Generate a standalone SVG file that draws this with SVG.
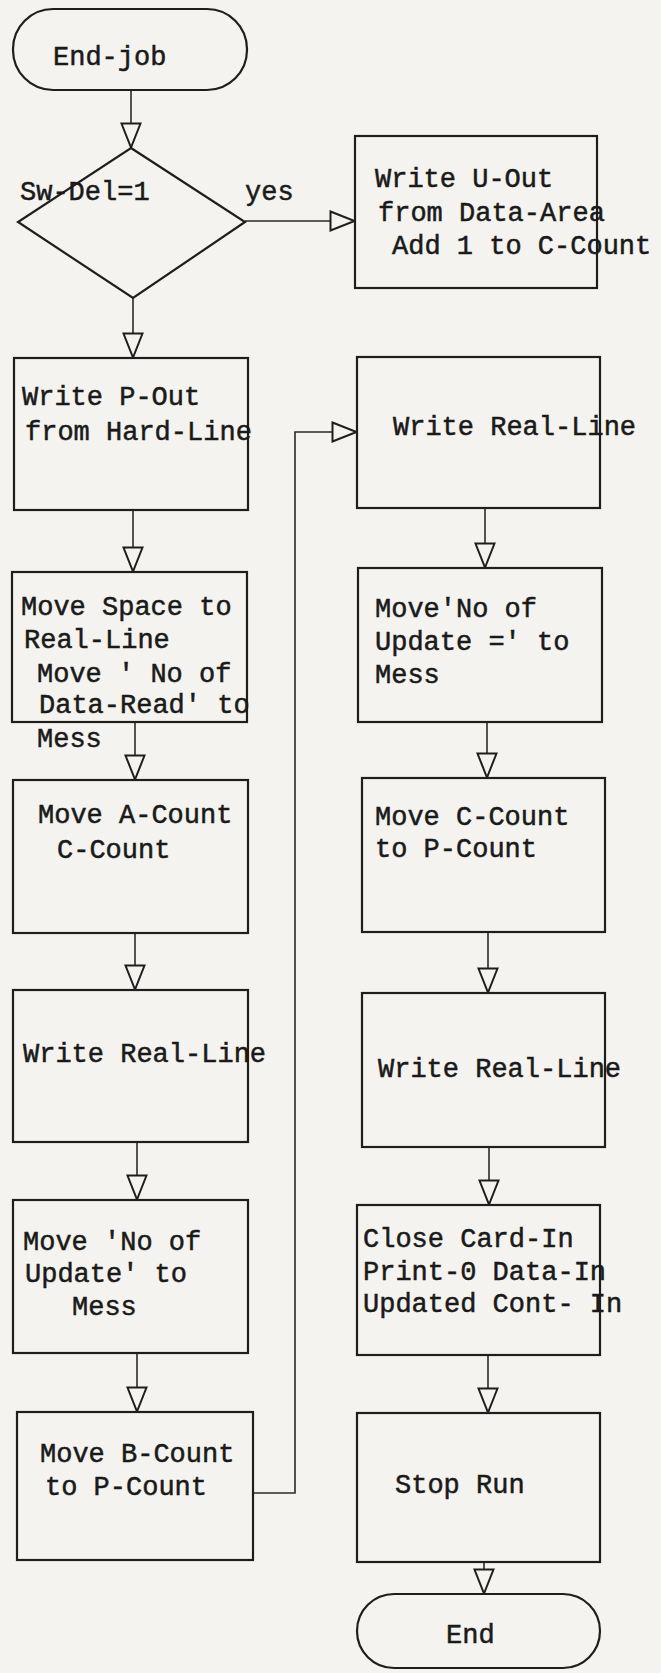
<svg xmlns="http://www.w3.org/2000/svg" width="661" height="1673" viewBox="0 0 661 1673">
<style>
.shape{fill:none;stroke:#1e1e1e;stroke-width:2.2}
.conn{fill:none;stroke:#2a2a2a;stroke-width:1.6}
text{font-family:"Liberation Mono","Courier New",monospace;font-size:27px;fill:#1a1a1a;stroke:#1a1a1a;stroke-width:0.5;white-space:pre}
</style>
<defs>
<marker id="tri" viewBox="0 0 27 22" refX="26" refY="11" markerWidth="27" markerHeight="22" markerUnits="userSpaceOnUse" orient="auto">
<path d="M1.5,1.5 L25.5,11 L1.5,20.5 Z" fill="#f4f3ef" stroke="#1e1e1e" stroke-width="2"/>
</marker>
</defs>
<rect x="0" y="0" width="661" height="1673" fill="#f4f3ef"/>
<g id="connectors">
<line class="conn" x1="131" y1="90" x2="131" y2="148" marker-end="url(#tri)"/>
<line class="conn" x1="133" y1="298" x2="133" y2="358" marker-end="url(#tri)"/>
<line class="conn" x1="245" y1="221" x2="355" y2="221" marker-end="url(#tri)"/>
<line class="conn" x1="133" y1="510" x2="133" y2="572" marker-end="url(#tri)"/>
<line class="conn" x1="135" y1="722" x2="135" y2="780" marker-end="url(#tri)"/>
<line class="conn" x1="135" y1="933" x2="135" y2="990" marker-end="url(#tri)"/>
<line class="conn" x1="137" y1="1142" x2="137" y2="1200" marker-end="url(#tri)"/>
<line class="conn" x1="137" y1="1353" x2="137" y2="1412" marker-end="url(#tri)"/>
<polyline class="conn" points="253,1493 295,1493 295,432 357,432" marker-end="url(#tri)"/>
<line class="conn" x1="485" y1="508" x2="485" y2="568" marker-end="url(#tri)"/>
<line class="conn" x1="487" y1="722" x2="487" y2="778" marker-end="url(#tri)"/>
<line class="conn" x1="488" y1="932" x2="488" y2="993" marker-end="url(#tri)"/>
<line class="conn" x1="489" y1="1147" x2="489" y2="1205" marker-end="url(#tri)"/>
<line class="conn" x1="488" y1="1355" x2="488" y2="1413" marker-end="url(#tri)"/>
<line class="conn" x1="484" y1="1562" x2="484" y2="1594" marker-end="url(#tri)"/>
</g>
<g id="n-endjob">
<rect class="shape" x="13" y="9" width="234" height="81" rx="40" ry="40"/>
<text x="53" y="65">End-job</text>
</g>
<g id="n-swdel">
<polygon class="shape" points="131,148 245,222 133,298 18,222"/>
<text x="20" y="200">Sw-Del=1</text>
<text x="245" y="200">yes</text>
</g>
<g id="n-writeuout">
<rect class="shape" x="355" y="136" width="242" height="152"/>
<text x="375" y="187">Write U-Out</text>
<text x="378" y="221">from Data-Area</text>
<text x="392" y="254">Add 1 to C-Count</text>
</g>
<g id="n-writepout">
<rect class="shape" x="14" y="358" width="234" height="152"/>
<text x="22" y="405">Write P-Out</text>
<text x="25" y="440">from Hard-Line</text>
</g>
<g id="n-movespace">
<rect class="shape" x="12" y="572" width="235" height="150"/>
<text x="21" y="615">Move Space to</text>
<text x="24" y="648">Real-Line</text>
<text x="37" y="682">Move ' No of</text>
<text x="39" y="713">Data-Read' to</text>
<text x="37" y="747">Mess</text>
</g>
<g id="n-moveacount">
<rect class="shape" x="13" y="780" width="235" height="153"/>
<text x="38" y="823">Move A-Count</text>
<text x="57" y="858">C-Count</text>
</g>
<g id="n-writereal1">
<rect class="shape" x="13" y="990" width="235" height="152"/>
<text x="23" y="1062">Write Real-Line</text>
</g>
<g id="n-moveupdate1">
<rect class="shape" x="13" y="1200" width="235" height="153"/>
<text x="23" y="1250">Move 'No of</text>
<text x="25" y="1282">Update' to</text>
<text x="72" y="1315">Mess</text>
</g>
<g id="n-movebcount">
<rect class="shape" x="17" y="1412" width="236" height="148"/>
<text x="40" y="1462">Move B-Count</text>
<text x="45" y="1495">to P-Count</text>
</g>
<g id="n-writereal2">
<rect class="shape" x="357" y="357" width="243" height="151"/>
<text x="393" y="435">Write Real-Line</text>
</g>
<g id="n-moveupdate2">
<rect class="shape" x="358" y="568" width="244" height="154"/>
<text x="375" y="617">Move'No of</text>
<text x="375" y="650">Update =' to</text>
<text x="375" y="683">Mess</text>
</g>
<g id="n-moveccount">
<rect class="shape" x="362" y="778" width="243" height="154"/>
<text x="375" y="825">Move C-Count</text>
<text x="375" y="857">to P-Count</text>
</g>
<g id="n-writereal3">
<rect class="shape" x="362" y="993" width="243" height="154"/>
<text x="378" y="1077">Write Real-Line</text>
</g>
<g id="n-close">
<rect class="shape" x="357" y="1205" width="243" height="150"/>
<text x="363" y="1247">Close Card-In</text>
<text x="363" y="1280">Print-0 Data-In</text>
<text x="363" y="1312">Updated Cont- In</text>
</g>
<g id="n-stoprun">
<rect class="shape" x="357" y="1413" width="243" height="149"/>
<text x="395" y="1493">Stop Run</text>
</g>
<g id="n-end">
<rect class="shape" x="357" y="1594" width="243" height="74" rx="37" ry="37"/>
<text x="446" y="1643">End</text>
</g>
</svg>
